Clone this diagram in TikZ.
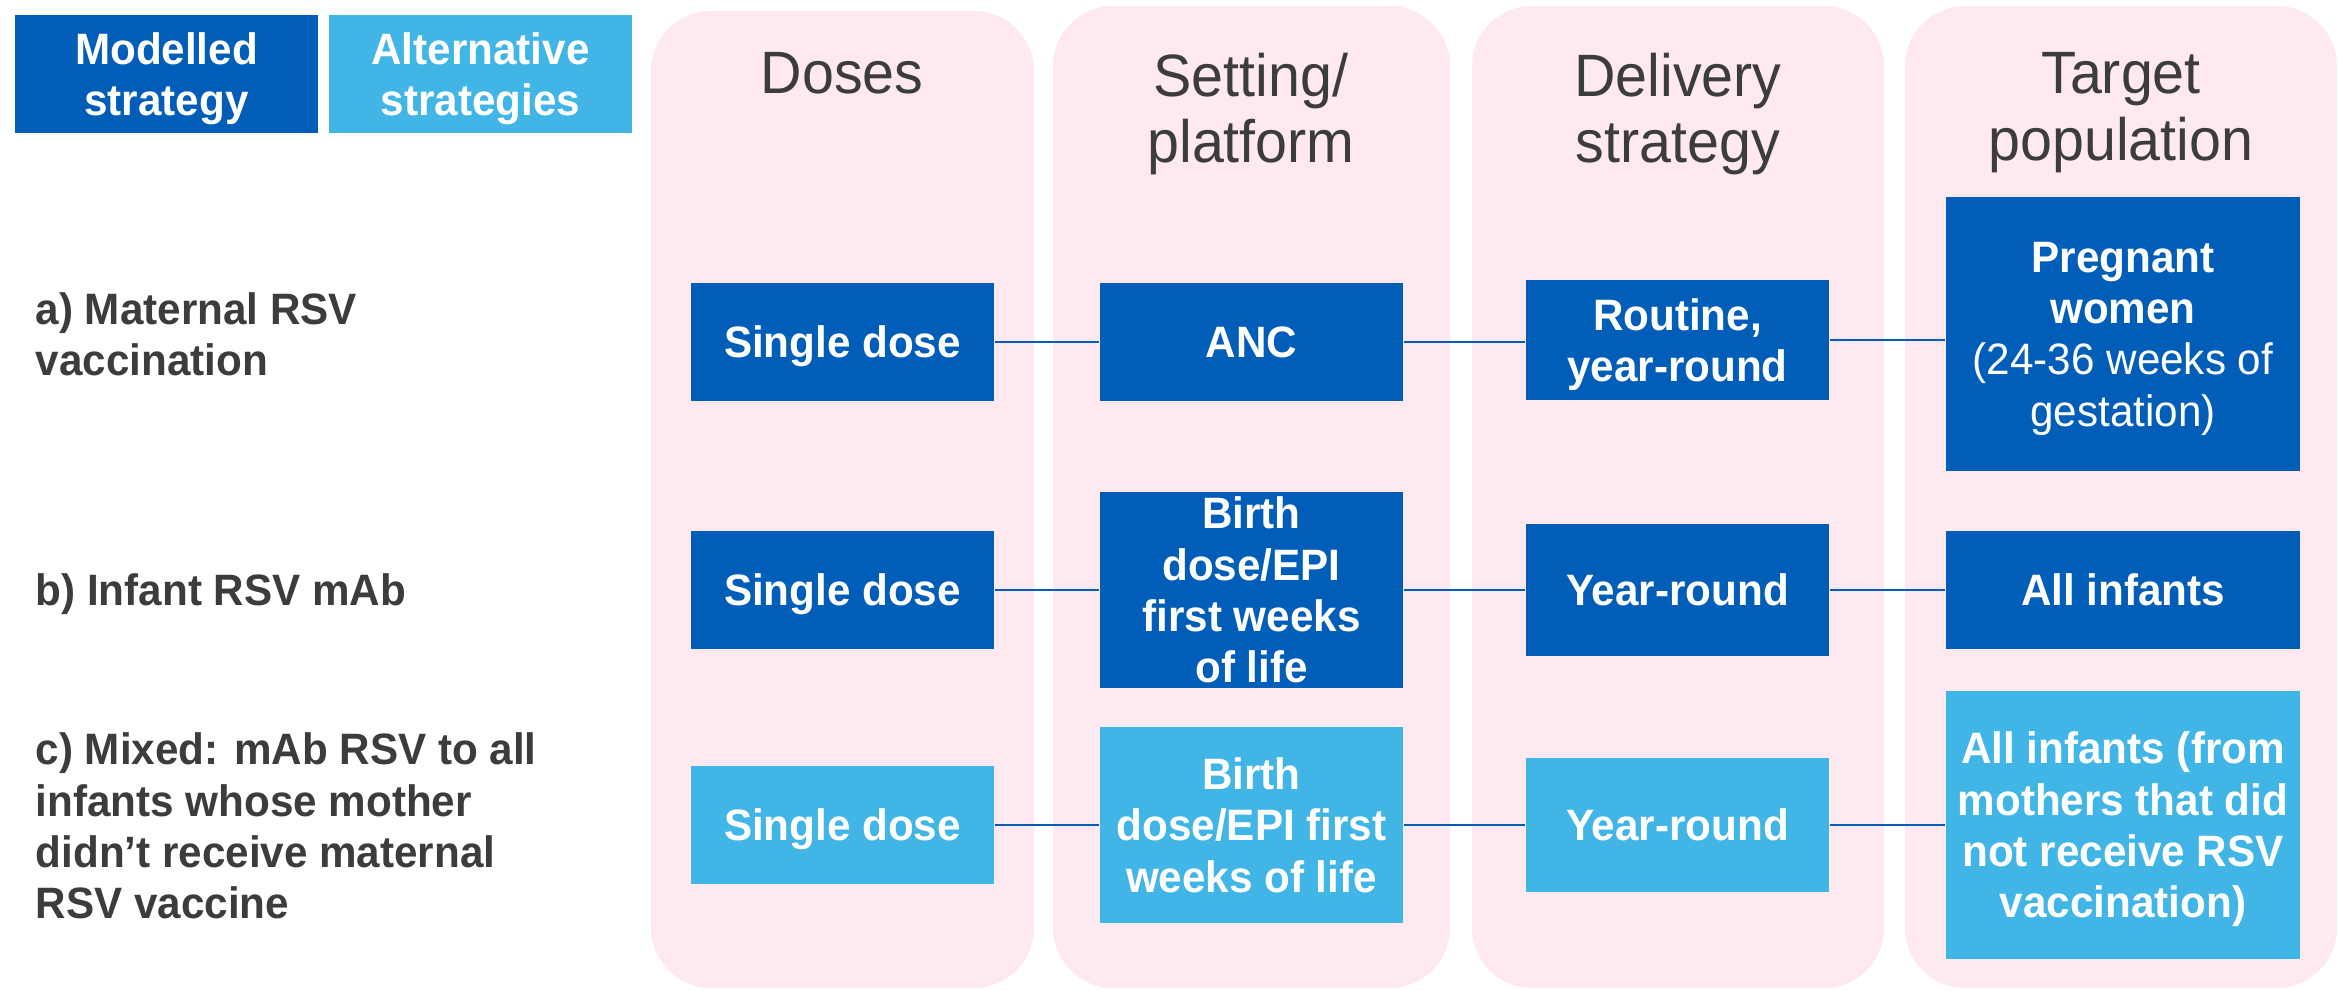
\documentclass[tikz,border=0pt]{standalone}
\usepackage{fontspec}
\setmainfont[FakeStretch=0.96]{Liberation Sans}
\usetikzlibrary{positioning}

\definecolor{modelblue}{HTML}{005EB8}
\definecolor{altblue}{HTML}{41B6E6}
\definecolor{panelpink}{HTML}{FDE9EF}
\definecolor{labelgray}{HTML}{3C3C3C}

\tikzset{
	panel/.style={fill=panelpink, draw=none, rounded corners=0.6cm},
	modelled/.style={fill=modelblue, text=white, inner sep=0pt, align=center, text depth=0pt,
		font=\bfseries\fontsize{12.5}{14.6}\selectfont},
	alternative/.style={modelled, fill=altblue},
	colhead/.style={text=labelgray, inner sep=0pt, align=center, anchor=north,
		font=\fontsize{17}{19}\selectfont},
	rowlabel/.style={text=labelgray, inner sep=0pt, align=left, anchor=west, text depth=0pt,
		font=\bfseries\fontsize{12.5}{14.6}\selectfont},
	link/.style={draw=modelblue, line width=0.6pt},
	dosebox/.style={minimum width=3.03cm, minimum height=1.18cm},
	setbox/.style={minimum width=3.03cm},
	delbox/.style={minimum width=3.03cm},
	popbox/.style={minimum width=3.54cm},
}

\begin{document}
\begin{tikzpicture}[x=0.01cm, y=-0.01cm]
			%%%%% START %%%%%
			\useasboundingbox (0, 0) rectangle (2339, 990);
			
			% columns
			\fill[panel] (651, 11) rectangle (1034, 988);
			\fill[panel] (1053, 6) rectangle (1450, 988);
			\fill[panel] (1472, 6) rectangle (1884, 988);
			\fill[panel] (1905, 6) rectangle (2337, 988);
			
			\node[colhead] (hdose) at (842, 52) {Doses};
			\node[colhead] (hset) at (1251, 52) {Setting/\\platform};
			\node[colhead] (hdel) at (1678, 52) {Delivery\\strategy};
			\node[colhead] (hpop) at (2121, 52) {Target\\population};
			
			% legend
			\node[modelled, minimum width=3.03cm, minimum height=1.18cm] (keymod) at (166.5, 74) {Modelled\\strategy};
			\node[alternative, minimum width=3.03cm, minimum height=1.18cm] (keyalt) at (480.5, 74) {Alternative\\strategies};
			
			% strategies
			\node[rowlabel] (rowa) at (35, 334) {a) Maternal RSV\\vaccination};
			\node[rowlabel] (rowb) at (35, 590) {b) Infant RSV mAb};
			\node[rowlabel] (rowc) at (35, 826) {c) Mixed: mAb RSV to all\\infants whose mother\\didn’t receive maternal\\RSV vaccine};
			
			% a)
			\node[modelled, dosebox] (doseA) at (842.5, 342) {Single dose};
			\node[modelled, setbox, minimum height=1.18cm] (setA) at (1251.5, 342) {ANC};
			\node[modelled, delbox, minimum height=1.19cm] (delA) at (1677.5, 340) {Routine,\\year-round};
			\node[modelled, popbox, minimum height=2.74cm] (popA) at (2123, 334) {Pregnant\\women\\\mdseries(24-36 weeks of\\\mdseries gestation)};
			
			% b)
			\node[modelled, dosebox] (doseB) at (842.5, 590) {Single dose};
			\node[modelled, setbox, minimum height=1.96cm] (setB) at (1251.5, 590) {Birth\\dose/EPI\\first weeks\\of life};
			\node[modelled, delbox, minimum height=1.31cm] (delB) at (1677.5, 590) {Year-round};
			\node[modelled, popbox, minimum height=1.17cm] (popB) at (2123, 590) {All infants};
			
			% c)
			\node[alternative, dosebox] (doseC) at (842.5, 825) {Single dose};
			\node[alternative, setbox, minimum height=1.96cm] (setC) at (1251.5, 825) {Birth\\dose/EPI first\\weeks of life};
			\node[alternative, delbox, minimum height=1.33cm] (delC) at (1677.5, 825) {Year-round};
			\node[alternative, popbox, minimum height=2.68cm] (popC) at (2123, 825) {All infants (from\\mothers that did\\not receive RSV\\vaccination)};
			
			\draw[link] (doseA) -- (setA);
			\draw[link] (setA.east) -- (setA.east -| delA.west);
			\draw[link] (delA.east) -- (delA.east -| popA.west);
			
			\draw[link] (doseB) -- (setB);
			\draw[link] (setB) -- (delB);
			\draw[link] (delB) -- (popB);
			
			\draw[link] (doseC) -- (setC);
			\draw[link] (setC) -- (delC);
			\draw[link] (delC) -- (popC);
			
			%%%%% END %%%%%
		\end{tikzpicture}
\end{document}
